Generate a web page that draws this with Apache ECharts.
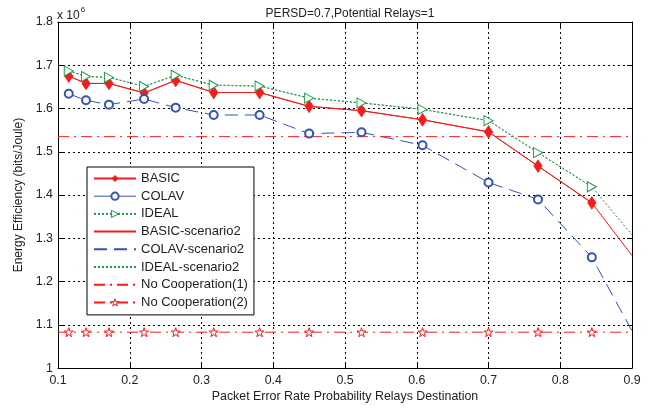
<!DOCTYPE html>
<html>
<head>
<meta charset="utf-8">
<script src="https://cdn.jsdelivr.net/npm/echarts@6/dist/echarts.min.js"></script>
<style>html,body{margin:0;padding:0;background:#fff}#c{width:652px;height:408px}</style>
</head>
<body>
<div id="c"></div>
<script>
// Data (energy efficiency in units of 10^6 bits/Joule)
const xPts   = [0.115, 0.139, 0.171, 0.22, 0.264, 0.317, 0.381, 0.45, 0.523, 0.608, 0.70, 0.769, 0.844];
const basic  = [1.675, 1.658, 1.658, 1.636, 1.665, 1.637, 1.637, 1.605, 1.595, 1.574, 1.546, 1.467, 1.382];
const colav  = [1.634, 1.619, 1.609, 1.622, 1.602, 1.585, 1.585, 1.542, 1.545, 1.515, 1.429, 1.390, 1.256];
const ideal  = [1.687, 1.674, 1.672, 1.651, 1.677, 1.654, 1.652, 1.624, 1.613, 1.598, 1.572, 1.498, 1.419];
const endX = 0.9;
const basicEnd = 1.260;
const colavEnd = 1.086;
const idealEnd = 1.308;
const noCoop1 = 1.535;
const noCoop2 = 1.083;
const xLimits = [0.1, 0.9];
const yLimits = [1.0, 1.8];
const seriesNames = ['BASIC','COLAV','IDEAL','BASIC-scenario2','COLAV-scenario2','IDEAL-scenario2','No Cooperation(1)','No Cooperation(2)'];
const titleText = 'PERSD=0.7,Potential Relays=1';
const xName = 'Packet Error Rate Probability Relays Destination';
const yName = 'Energy Efficiency (bits/Joule)';

const RED = '#f41c1c', BLUE = '#3553b0', GREEN = '#1f9a48';
const FONT = 'Liberation Sans';
const pairs = (xs, ys) => xs.map((x, i) => [x, ys[i]]);
const withEnd = (ys, e) => pairs(xPts, ys).concat([[endX, e]]);
const star = 'path://M50,2 L61,36 L97,36 L68,57 L79,92 L50,71 L21,92 L32,57 L3,36 L39,36 Z';
const triR = 'path://M0,0 L10,5 L0,10 Z';

const noCoop2Data = [{value:[xLimits[0], noCoop2], symbol:'none'}]
  .concat(xPts.map(x => [x, noCoop2]))
  .concat([{value:[xLimits[1], noCoop2], symbol:'none'}]);

const chart = echarts.init(document.getElementById('c'), null, {renderer:'canvas'});
const axisCommon = {
  interval: 0.1,
  axisLine: {show:true, onZero:false, lineStyle:{color:'#000', width:1}},
  axisTick: {show:true, inside:true, length:5, lineStyle:{color:'#000'}},
  splitLine: {show:false}
};
const hideIcon = {opacity: 0};
chart.setOption({
  animation: false,
  backgroundColor: '#fff',
  textStyle: {fontFamily: FONT},
  title: {text: titleText, left: 345, top: 3, textAlign: 'center',
    textStyle: {fontSize: 12, fontWeight: 'normal', color: '#222', fontFamily: FONT}},
  grid: {left: 58, right: 20, top: 22, bottom: 37, containLabel: false},
  graphic: [{type:'text', left: 57, top: 6, style: {
    text: '{a|x 10}{b|6}', fill: '#222',
    rich: {a:{fontSize:12, fontFamily:FONT, fill:'#222', verticalAlign:'bottom'}, b:{fontSize:8, fontFamily:FONT, fill:'#222', verticalAlign:'top', padding:[0,0,8,1]}}
  }}],
  legend: {
    orient: 'vertical', left: 87, top: 167,
    padding: [5, 6, 6, 6], itemGap: 4.7, itemWidth: 42, itemHeight: 9,
    backgroundColor: '#fff', borderColor: '#000', borderWidth: 1, borderRadius: 0,
    selectedMode: false,
    textStyle: {fontSize: 13, lineHeight: 13, color: '#222', fontFamily: FONT},
    data: [
      {name: seriesNames[0]},
      {name: seriesNames[1], lineStyle: {opacity: 1, width: 1, color: BLUE, type: 'solid'}},
      {name: seriesNames[2], itemStyle: {color: '#fff', borderColor: GREEN, borderWidth: 1}},
      {name: seriesNames[3], itemStyle: hideIcon},
      {name: seriesNames[4], itemStyle: hideIcon},
      {name: seriesNames[5], itemStyle: hideIcon},
      {name: seriesNames[6], itemStyle: hideIcon},
      {name: seriesNames[7], itemStyle: {color: '#fff', borderColor: RED, borderWidth: 1}}
    ]
  },
  xAxis: [
    Object.assign({}, axisCommon, {type:'value', position:'bottom', min: xLimits[0], max: xLimits[1],
      name: xName, nameLocation: 'middle', nameGap: 21,
      nameTextStyle: {fontSize: 12.4, color: '#222', fontFamily: FONT},
      axisLabel: {fontSize: 12.4, color: '#222', margin: 6, fontFamily: FONT, formatter: v => (+v).toFixed(1)},
      splitLine: {show:true, lineStyle:{color:'#000', type:[2,3], width:1}}}),
    Object.assign({}, axisCommon, {type:'value', position:'top', min: xLimits[0], max: xLimits[1],
      axisLabel: {show:false}})
  ],
  yAxis: [
    Object.assign({}, axisCommon, {type:'value', position:'left', min: yLimits[0], max: yLimits[1],
      name: yName, nameLocation: 'middle', nameGap: 32,
      nameTextStyle: {fontSize: 12, color: '#222', fontFamily: FONT},
      axisLabel: {fontSize: 12.4, color: '#222', margin: 5, fontFamily: FONT,
        formatter: v => { const r = Math.round(v*10)/10; return r === 1 ? '1' : r.toFixed(1); }},
      splitLine: {show:true, lineStyle:{color:'#000', type:[2,3], width:1}}}),
    Object.assign({}, axisCommon, {type:'value', position:'right', min: yLimits[0], max: yLimits[1],
      axisLabel: {show:false}})
  ],
  series: [
    {name: seriesNames[0], type:'line', data: pairs(xPts, basic), z: 5,
      symbol:'diamond', symbolSize:[8,12], showSymbol:true,
      itemStyle:{color: RED, borderColor: RED}, lineStyle:{color: RED, width:1}},
    {name: seriesNames[1], type:'line', data: pairs(xPts, colav), z: 5,
      symbol:'emptyCircle', symbolSize: 8,
      itemStyle:{color: BLUE, borderColor: BLUE, borderWidth: 1}, lineStyle:{color: BLUE, width:1, opacity: 0}},
    {name: seriesNames[2], type:'line', data: pairs(xPts, ideal), z: 5,
      symbol: triR, symbolSize:[9,10], symbolKeepAspect: false,
      itemStyle:{color: '#fff', borderColor: GREEN, borderWidth: 1}, lineStyle:{color: GREEN, width:1, type:[2,2]}},
    {name: seriesNames[3], type:'line', data: withEnd(basic, basicEnd), symbol:'none',
      lineStyle:{color: RED, width:1}, itemStyle:{color: RED}},
    {name: seriesNames[4], type:'line', data: withEnd(colav, colavEnd), symbol:'none',
      lineStyle:{color: BLUE, width:1, type:[13,7]}, itemStyle:{color: BLUE}},
    {name: seriesNames[5], type:'line', data: withEnd(ideal, idealEnd), symbol:'none',
      lineStyle:{color: GREEN, width:1, type:[2,2]}, itemStyle:{color: GREEN}},
    {name: seriesNames[6], type:'line', data: [[xLimits[0], noCoop1], [xLimits[1], noCoop1]], symbol:'none',
      lineStyle:{color: RED, width:1, type:[11,5,2,5]}, itemStyle:{color: RED}},
    {name: seriesNames[7], type:'line', data: noCoop2Data, z: 4,
      symbol: star, symbolSize: 9, showSymbol: true,
      itemStyle:{color:'#fff', borderColor: RED, borderWidth: 1},
      lineStyle:{color: RED, width:1, type:[11,5,2,5]}}
  ]
});
</script>
</body>
</html>
